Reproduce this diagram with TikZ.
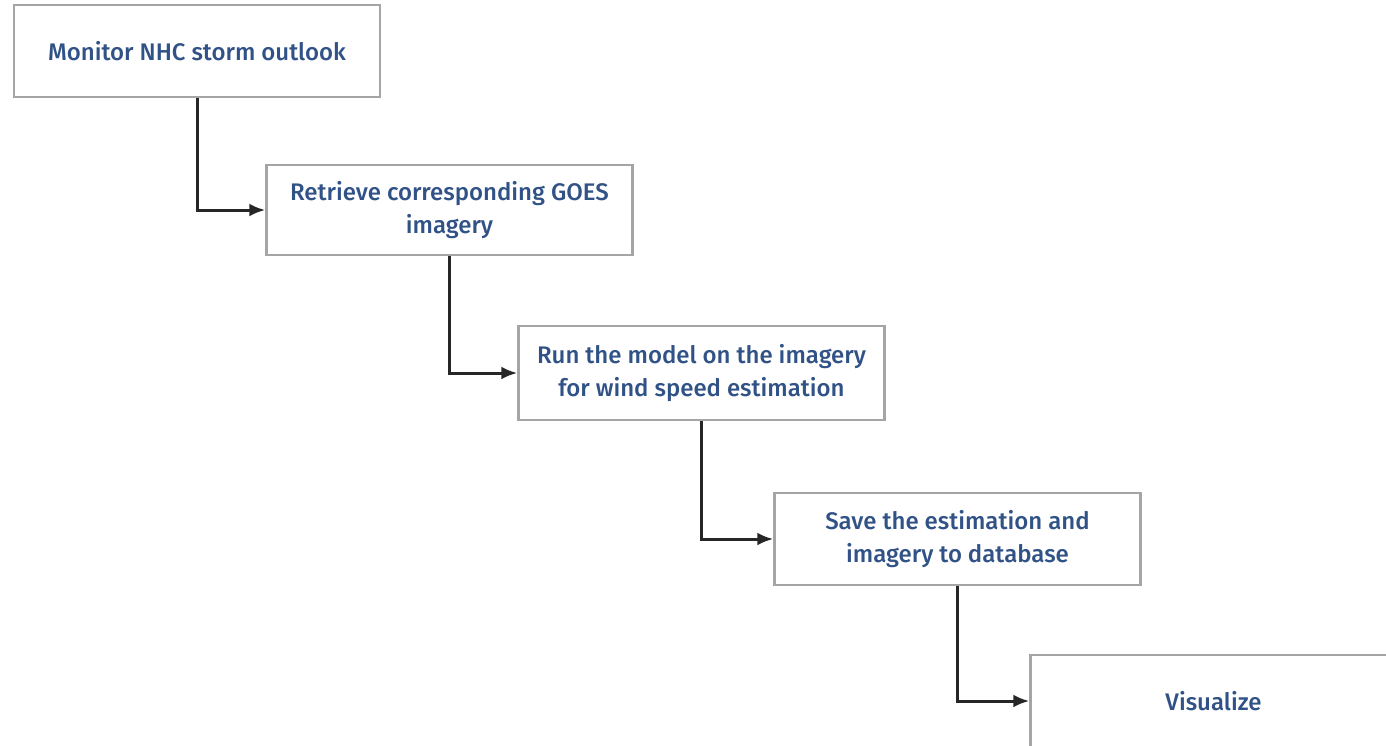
\documentclass[tikz,border=0pt]{standalone}
\usepackage{fontspec}
\setmainfont{Fira Sans}[UprightFont={* Medium}]
\usetikzlibrary{arrows.meta}
\definecolor{txtblue}{RGB}{48,82,134}
\definecolor{boxgray}{RGB}{165,165,165}
\begin{document}
\begin{tikzpicture}[x=1pt,y=-1pt,
  stepbox/.style={draw=boxgray,line width=2.5pt,fill=white,minimum width=366pt,minimum height=92pt,
    align=center,text=txtblue,font=\fontsize{24}{33}\selectfont,inner sep=0pt},
  conn/.style={line width=3pt,-{Latex[length=16pt,width=13pt]},black!85}]
\useasboundingbox (0,0) rectangle (1386,745);
\fill[white] (0,0) rectangle (1386,745);
\node[stepbox] (b1) at (197,51) {Monitor NHC storm outlook};
\node[stepbox,minimum height=90pt] (b2) at (449.5,210) {Retrieve corresponding GOES\\imagery};
\node[stepbox,minimum height=94pt] (b3) at (701.5,373) {Run the model on the imagery\\for wind speed estimation};
\node[stepbox] (b4) at (957.5,539) {Save the estimation and\\imagery to database};
\node[stepbox,minimum height=92pt] (b5) at (1213.5,701) {Visualize};
\draw[conn] (b1.south) |- (b2.west);
\draw[conn] (b2.south) |- (b3.west);
\draw[conn] (b3.south) |- (b4.west);
\draw[conn] (b4.south) |- (b5.west);
\end{tikzpicture}
\end{document}
